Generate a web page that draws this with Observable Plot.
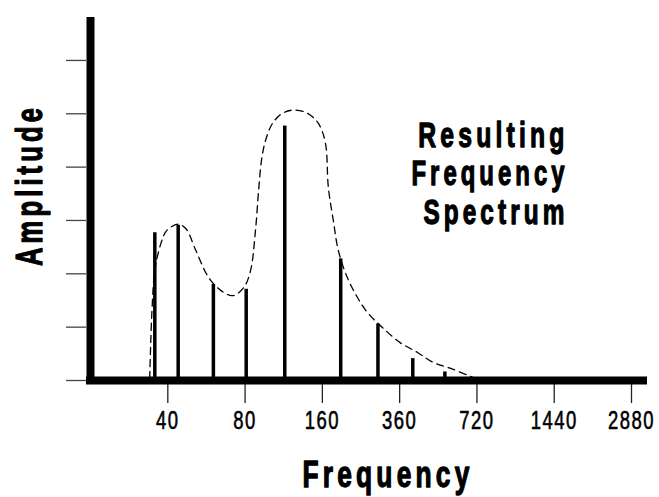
<!DOCTYPE html>
<html><head><meta charset="utf-8">
<script src="https://cdn.jsdelivr.net/npm/d3@7"></script>
<script src="https://cdn.jsdelivr.net/npm/@observablehq/plot@0.6"></script>
<style>body{margin:0;background:#fff}</style>
</head><body><div id="chart"></div>
<script>
// x ticks (octave positions) and their printed labels
const tickValues = [40, 80, 160, 320, 640, 1280, 2560];
const tickLabels = ["40", "80", "160", "360", "720", "1440", "2880"];
const yTicks = [0, 1, 2, 3, 4, 5, 6];

// spectral lines
const barFreq = [35.6, 43.9, 60.2, 80.8, 114.2, 188.6, 263.4, 360, 480];
const barAmp  = [2.77, 2.91, 1.80, 1.71, 4.77, 2.28, 1.06, 0.41, 0.16];

// dashed envelope
const envFreq = [34.0, 34.7, 35.6, 37.6, 39.6, 43.8, 47.0, 51.4, 57.7, 64.3, 71.5, 79.0, 84.0, 87.8, 90.3, 92.7, 96.1, 102.3, 111.9, 123.5, 139.9, 154.4, 164.4, 168.8, 176.5, 184.6, 200.1, 218.9, 239.3, 276.1, 321.3, 374.3, 431.7, 502.9, 617.3];
const envAmp  = [0.04, 1.31, 2.06, 2.57, 2.81, 2.93, 2.85, 2.44, 1.93, 1.69, 1.59, 1.74, 2.06, 2.81, 3.56, 4.13, 4.50, 4.82, 5.01, 5.07, 5.01, 4.82, 4.45, 3.62, 3.00, 2.44, 1.93, 1.56, 1.28, 0.98, 0.71, 0.53, 0.34, 0.23, 0.06];

const xTitle = "Frequency";
const yTitle = "Amplitude";
const annotationLines = ["Resulting", "Frequency", "Spectrum"];

const bars = barFreq.map((f, i) => ({f, a: barAmp[i]}));
const env = envFreq.map((f, i) => ({f, a: envAmp[i]}));

const F = "'Liberation Sans',Arial,sans-serif";
const xDomain = [19.29, 2955];
const yMax = 6.88;

const chart = Plot.plot({
  width: 659, height: 497,
  marginLeft: 86, marginRight: 12, marginTop: 13, marginBottom: 117,
  style: {fontFamily: F, background: "white", color: "black", overflow: "visible"},
  x: {type: "log", base: 2, domain: xDomain},
  y: {domain: [0, yMax]},
  marks: [
    Plot.axisY(yTicks, {tickSize: 20, tickFormat: () => "", stroke: "#444", strokeWidth: 1.3, label: null}),
    Plot.axisX(tickValues, {tickSize: 23, tickPadding: 8, tickFormat: d => tickLabels[tickValues.indexOf(d)], fontSize: 25, stroke: "#222", strokeWidth: 1.3, label: null}),
    Plot.line(env, {x: "f", y: "a", curve: "catmull-rom", stroke: "black", strokeWidth: 1.3, strokeDasharray: "7,5"}),
    Plot.ruleX(bars, {x: "f", y1: 0, y2: "a", stroke: "black", strokeWidth: 3.5}),
    Plot.ruleY([0], {stroke: "black", strokeWidth: 8}),
    Plot.ruleX([xDomain[0]], {y1: 0, y2: yMax, dx: 4, insetBottom: -4, stroke: "black", strokeWidth: 8}),
    Plot.text([yTitle], {text: d => d, frameAnchor: "left", rotate: -90, lineAnchor: "bottom", textAnchor: "middle", dx: -45, dy: -12, fontSize: 37.5, fontWeight: "bold", fill: "black", stroke: "black", strokeWidth: 1.3}),
    Plot.text([xTitle], {text: d => d, frameAnchor: "bottom", lineAnchor: "bottom", textAnchor: "middle", dx: 21, dy: 106, fontSize: 37.5, fontWeight: "bold", fill: "black", stroke: "black", strokeWidth: 1.3}),
    ...annotationLines.map((t, i) => Plot.text([t], {text: d => d, frameAnchor: "top-left", lineAnchor: "bottom", textAnchor: "end", dx: 482, dy: 133.7 + i * 38.2, fontSize: 35.5, fontWeight: "bold", fill: "black", stroke: "black", strokeWidth: 1.3}))
  ]
});
document.getElementById("chart").appendChild(chart);

// condensed, letter-spaced lettering: squeeze each text to its measured width
function squeeze(el, visible, ls) {
  el.style.letterSpacing = ls + "px";
  const full = el.getComputedTextLength();
  const r = visible / Math.max(1, full - ls);
  el.setAttribute("textLength", visible + ls * r);
  el.setAttribute("lengthAdjust", "spacingAndGlyphs");
}
const svg = d3.select(chart);
svg.selectAll('g[aria-label="x-axis tick label"] text').each(function() {
  const t = this.textContent;
  squeeze(this, 11.75 * t.length - 1.5, 2);
  this.setAttribute("stroke", "black");
  this.setAttribute("stroke-width", "0.6");
});
const textGroups = svg.selectAll('g[aria-label="text"]').nodes();
const textWidths = [158, 167, 146, 153, 141];
textGroups.forEach((g, i) => {
  d3.select(g).selectAll("text").each(function() { squeeze(this, textWidths[i], 6); });
});
</script>
</body></html>
